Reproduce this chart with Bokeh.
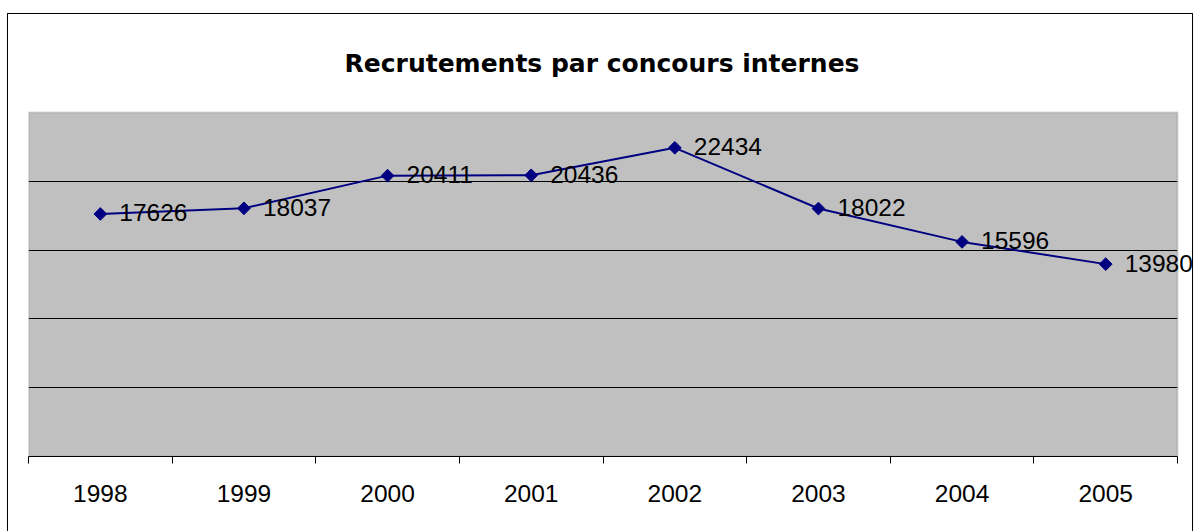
import math
from bokeh.plotting import figure
from bokeh.models import (ColumnDataSource, FixedTicker, SingleIntervalTicker, Grid,
                          Range1d, LinearAxis, LabelSet, BoxAnnotation, Label)
from bokeh.core.properties import value
from bokeh.embed import file_html
from bokeh.resources import INLINE

years = ["1998", "1999", "2000", "2001", "2002", "2003", "2004", "2005"]
recrutements = [17626, 18037, 20411, 20436, 22434, 18022, 15596, 13980]
title_text = "Recrutements par concours internes"

n = len(years)
xpos = [i + 0.5 for i in range(n)]
src = ColumnDataSource(dict(x=xpos, y=recrutements, lab=[str(v) for v in recrutements]))

FONT = "Liberation Sans"
YMAX = 25000

# layout (pixels)
W, H = 1186, 520
LEFT, BOTTOM = 20, 78
PLOT_W, PLOT_H = 1149, 344          # grey plot area
FRAME_W, FRAME_H = W - LEFT, H - BOTTOM
TITLE_BASE = 49                      # title baseline from top of chart

x_end = n * FRAME_W / PLOT_W
y_end = YMAX * FRAME_H / PLOT_H

p = figure(width=W, height=H, output_backend="svg", toolbar_location=None, title=None,
           x_range=Range1d(0, x_end), y_range=Range1d(0, y_end),
           x_axis_location=None, y_axis_location=None,
           min_border_left=LEFT, min_border_right=0, min_border_top=0, min_border_bottom=BOTTOM,
           background_fill_color="white", border_fill_color="white",
           outline_line_color=None,
           styles={"border": "1px solid black", "margin-left": "7px", "margin-top": "13px"})

for g in list(p.grid):
    g.visible = False

# grey plot area
p.add_layout(BoxAnnotation(left=0, right=n, bottom=0, top=YMAX, fill_color="#C0C0C0",
                           fill_alpha=1, line_color=None, level="image"))

grid = Grid(dimension=1, ticker=SingleIntervalTicker(interval=5000),
            bounds=(1, YMAX - 1), cross_bounds=(0, n),
            grid_line_color="black", grid_line_width=1)
p.add_layout(grid)

# plot area border
p.add_layout(BoxAnnotation(left=0, right=n, bottom=0, top=YMAX, fill_color=None,
                           fill_alpha=0, line_color="#808080", line_width=2, level="glyph"))

xaxis = LinearAxis(ticker=FixedTicker(ticks=xpos, minor_ticks=list(range(n + 1))),
                   bounds=(0, n))
xaxis.major_label_overrides = {x: y for x, y in zip(xpos, years)}
xaxis.major_tick_line_color = None
xaxis.minor_tick_line_color = "black"
xaxis.minor_tick_in = 0
xaxis.minor_tick_out = 7
xaxis.axis_line_color = "black"
xaxis.axis_line_width = 1
xaxis.major_label_text_font = FONT
xaxis.major_label_text_font_size = "24.5px"
xaxis.major_label_text_color = "black"
xaxis.major_label_standoff = 21
p.add_layout(xaxis, "below")

p.line("x", "y", source=src, line_color="#000080", line_width=2)
p.scatter("x", "y", source=src, marker="square", angle=math.pi / 4, size=9,
          fill_color="#000080", line_color="#000080")

labels = LabelSet(x="x", y="y", text="lab", source=src, x_offset=19, y_offset=1,
                  text_font=value(FONT), text_font_size="24.5px", text_color="black",
                  text_baseline="middle", text_align="left")
p.add_layout(labels)

p.add_layout(Label(x=n / 2, y=y_end * (FRAME_H - TITLE_BASE) / FRAME_H, text=title_text,
                   text_font="DejaVu Sans", text_font_size="25px", text_font_style="bold",
                   text_color="black", text_align="center", text_baseline="alphabetic",
                   x_offset=-1))

open("out.html", "w").write(file_html(p, INLINE))
